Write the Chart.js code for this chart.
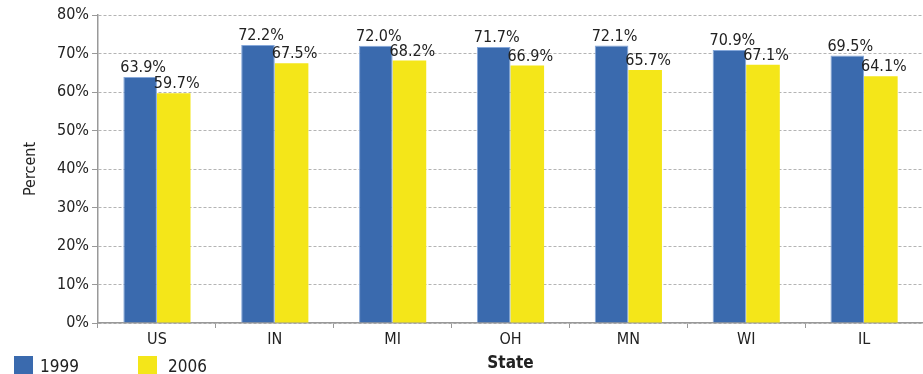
<!DOCTYPE html>
<html>
<head>
<meta charset="utf-8">
<script src="https://cdn.jsdelivr.net/npm/chart.js@4/dist/chart.umd.min.js"></script>
<style>
  html, body { margin: 0; padding: 0; background: #fff; overflow: hidden; }
  #wrap { position: relative; width: 923px; height: 374px; }
  .leg { position: absolute; font: 17px "Liberation Sans Narrow", "DejaVu Sans Condensed", sans-serif; color: #222; }
  .sw { position: absolute; width: 19px; height: 20px; }
</style>
</head>
<body>
<div id="wrap">
  <canvas id="c" width="923" height="374"></canvas>
  <div class="sw" style="left:14px;top:356px;background:#3a6aae"></div>
  <div class="leg" style="left:40px;top:356px">1999</div>
  <div class="sw" style="left:138px;top:356px;background:#f4e619"></div>
  <div class="leg" style="left:168px;top:356px">2006</div>
</div>
<script>
const FONT = "'Liberation Sans Narrow', 'DejaVu Sans Condensed', sans-serif";
const BLUE = "#3a6aae";
const YELLOW = "#f4e619";

const states = ["US", "IN", "MI", "OH", "MN", "WI", "IL"];
const y1999 = [63.9, 72.2, 72.0, 71.7, 72.1, 70.9, 69.5];
const y2006 = [59.7, 67.5, 68.2, 66.9, 65.7, 67.1, 64.1];

Chart.defaults.font.family = FONT;
Chart.defaults.font.size = 16;
Chart.defaults.color = "#222";
Chart.defaults.animation = false;

// value labels above each bar
const barLabels = {
  id: "barLabels",
  afterDatasetsDraw(chart) {
    const { ctx } = chart;
    ctx.save();
    ctx.font = "16px " + FONT;
    ctx.fillStyle = "#222";
    ctx.textAlign = "center";
    ctx.textBaseline = "bottom";
    chart.data.datasets.forEach((ds, i) => {
      chart.getDatasetMeta(i).data.forEach((bar, j) => {
        ctx.fillText(ds.data[j].toFixed(1) + "%", bar.x + 3, bar.y - 1);
      });
    });
    ctx.restore();
  },
};

new Chart(document.getElementById("c").getContext("2d"), {
  type: "bar",
  data: {
    labels: states,
    datasets: [
      { label: "1999", data: y1999, backgroundColor: BLUE, borderColor: "#86a8da", borderWidth: 1 },
      { label: "2006", data: y2006, backgroundColor: YELLOW, borderWidth: 0 },
    ],
  },
  options: {
    responsive: false,
    layout: { padding: { top: 15, right: 0, left: 0, bottom: 0 } },
    datasets: { bar: { categoryPercentage: 0.57, barPercentage: 1 } },
    plugins: { legend: { display: false }, tooltip: { enabled: false } },
    scales: {
      x: {
        afterFit: (s) => { s.height = 51; },
        grid: { offset: true, drawOnChartArea: false, tickLength: 5, color: "#999" },
        border: { color: "#999", width: 1.5 },
        ticks: { padding: 2 },
        title: { display: true, text: "State", font: { size: 17, weight: "bold" }, padding: { top: 0, bottom: 0 } },
      },
      y: {
        min: 0,
        max: 80,
        afterFit: (s) => { s.width = 98; },
        grid: { color: "#b4b4b4", tickBorderDash: [], tickLength: 6, tickColor: "#999" },
        border: { color: "#999", width: 1.5, dash: [3, 2] },
        ticks: { stepSize: 10, padding: 3, callback: (v) => v + "%" },
        title: { display: true, text: "Percent", font: { size: 16 }, padding: { top: 21, bottom: 0 } },
      },
    },
  },
  plugins: [barLabels],
});
</script>
</body>
</html>
